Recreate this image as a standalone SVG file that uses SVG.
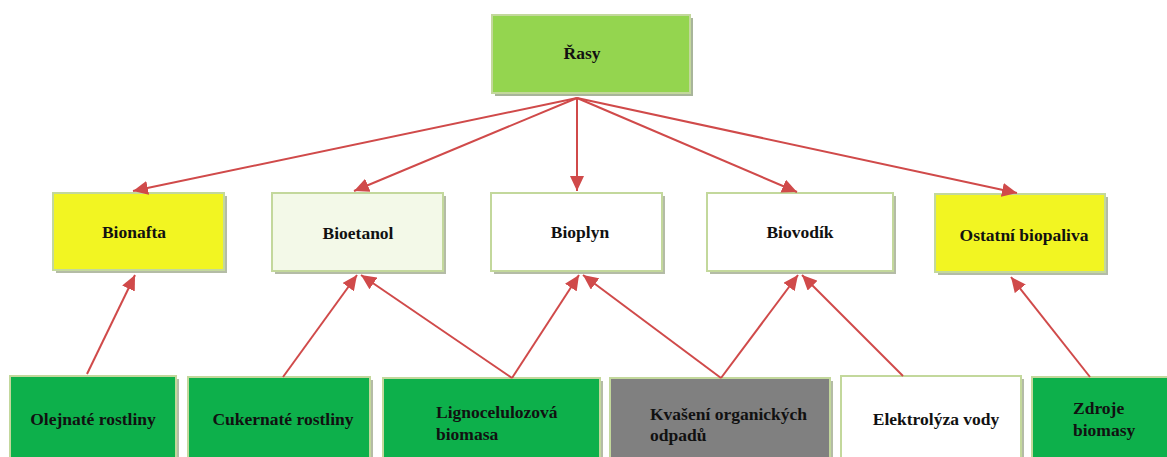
<svg xmlns="http://www.w3.org/2000/svg" width="1167" height="457" viewBox="0 0 1167 457">
<style>
.t{font-family:"Liberation Serif","Times New Roman",serif;font-weight:bold;font-size:17.5px;fill:#111}
.c{text-anchor:middle}
.sh{fill:#b4bca6}
.bx{stroke:#c3d89c;stroke-width:2}
.ln{stroke:#d04a4a;stroke-width:2;fill:none;marker-end:url(#ah)}
</style>
<defs>
<marker id="ah" markerUnits="userSpaceOnUse" markerWidth="16" markerHeight="14" refX="15" refY="7" orient="auto">
<path d="M0,0 L15,7 L0,14 Z" fill="#d04a4a"/>
</marker>
</defs>
<rect width="1167" height="457" fill="#ffffff"/>

<g id="rasy">
<rect x="495" y="18" width="198" height="78" fill="#a8b59a"/>
<rect class="bx" x="492" y="15" width="198" height="78" fill="#94d54f" stroke="#b9e38e"/>
<text class="t c" x="582" y="59">Řasy</text>
</g>

<g id="bionafta">
<rect class="sh" x="56" y="196" width="171" height="77"/>
<rect class="bx" x="53" y="193" width="171" height="77" fill="#f2f522"/>
<text class="t c" x="134" y="238">Bionafta</text>
</g>
<g id="bioetanol">
<rect class="sh" x="275" y="196" width="171" height="78"/>
<rect class="bx" x="272" y="193" width="171" height="78" fill="#f3f9e8"/>
<text class="t c" x="358" y="239">Bioetanol</text>
</g>
<g id="bioplyn">
<rect class="sh" x="494" y="196" width="171" height="78"/>
<rect class="bx" x="491" y="193" width="171" height="78" fill="#ffffff"/>
<text class="t c" x="580" y="238">Bioplyn</text>
</g>
<g id="biovodik">
<rect class="sh" x="710" y="196" width="186" height="78"/>
<rect class="bx" x="707" y="193" width="186" height="78" fill="#ffffff"/>
<text class="t c" x="800" y="238">Biovodík</text>
</g>
<g id="ostatni">
<rect class="sh" x="938" y="197" width="170" height="78"/>
<rect class="bx" x="935" y="194" width="170" height="78" fill="#f2f522"/>
<text class="t c" x="1024" y="241">Ostatní biopaliva</text>
</g>

<g id="olejnate">
<rect class="sh" x="13" y="379" width="166" height="90"/>
<rect class="bx" x="10" y="376" width="166" height="90" fill="#0db04b"/>
<text class="t c" x="93" y="425">Olejnaté rostliny</text>
</g>
<g id="cukernate">
<rect class="sh" x="191" y="380" width="182" height="90"/>
<rect class="bx" x="188" y="377" width="182" height="90" fill="#0db04b"/>
<text class="t c" x="283" y="425">Cukernaté rostliny</text>
</g>
<g id="ligno">
<rect class="sh" x="386" y="381" width="217" height="90"/>
<rect class="bx" x="383" y="378" width="217" height="90" fill="#0db04b"/>
<text class="t" x="436" y="418">Lignocelulozová</text>
<text class="t" x="436" y="440">biomasa</text>
</g>
<g id="kvaseni">
<rect class="sh" x="613" y="381" width="220" height="90"/>
<rect class="bx" x="610" y="378" width="220" height="90" fill="#808080"/>
<text class="t" x="650" y="420">Kvašení organických</text>
<text class="t" x="650" y="441">odpadů</text>
</g>
<g id="elektrolyza">
<rect class="sh" x="844" y="379" width="180" height="90"/>
<rect class="bx" x="841" y="376" width="180" height="90" fill="#ffffff"/>
<text class="t c" x="936" y="425">Elektrolýza vody</text>
</g>
<g id="zdroje">
<rect class="sh" x="1035" y="380" width="140" height="90"/>
<rect class="bx" x="1032" y="377" width="140" height="90" fill="#0db04b"/>
<text class="t" x="1073" y="414">Zdroje</text>
<text class="t" x="1073" y="436">biomasy</text>
</g>

<g id="connectors">
<line class="ln" x1="577" y1="98" x2="133" y2="191"/>
<line class="ln" x1="577" y1="98" x2="354" y2="191"/>
<line class="ln" x1="577" y1="98" x2="577" y2="191"/>
<line class="ln" x1="577" y1="98" x2="797" y2="192"/>
<line class="ln" x1="577" y1="98" x2="1017" y2="193"/>
<line class="ln" x1="87" y1="374" x2="135" y2="275"/>
<line class="ln" x1="283" y1="377" x2="357" y2="275"/>
<line class="ln" x1="512" y1="378" x2="361" y2="275"/>
<line class="ln" x1="512" y1="378" x2="579" y2="275"/>
<line class="ln" x1="721" y1="378" x2="583" y2="275"/>
<line class="ln" x1="721" y1="378" x2="798" y2="275"/>
<line class="ln" x1="903" y1="376" x2="802" y2="275"/>
<line class="ln" x1="1090" y1="377" x2="1011" y2="277"/>
</g>
</svg>
